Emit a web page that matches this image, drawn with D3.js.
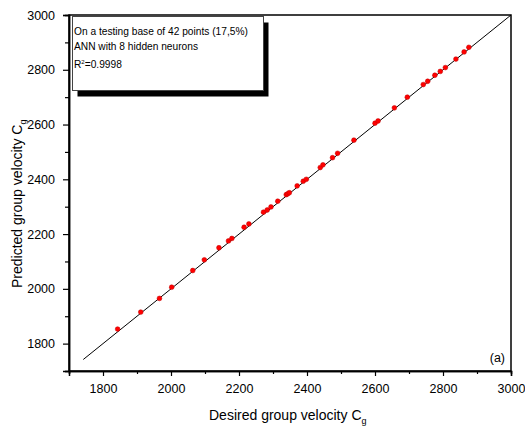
<!DOCTYPE html>
<html>
<head>
<meta charset="utf-8">
<script src="https://cdn.jsdelivr.net/npm/d3@7/dist/d3.min.js"></script>
<style>
  html, body { margin: 0; padding: 0; background: #fff; }
  svg { display: block; font-family: "Liberation Sans", Arial, sans-serif; }
</style>
</head>
<body>
<svg id="chart" width="525" height="431"></svg>
<script>
// Desired (x) vs predicted (y) group velocity for the testing points
const desired = [1843, 1911, 1966, 2002, 2064, 2098, 2141, 2169, 2179, 2215, 2229, 2272, 2283,
  2294, 2314, 2339, 2343, 2348, 2371, 2389, 2398, 2439, 2447, 2475, 2490, 2538, 2600, 2609,
  2657, 2695, 2742, 2755, 2776, 2792, 2807, 2838, 2862, 2876];
const predicted = [1853, 1915, 1965, 2006, 2067, 2106, 2150, 2175, 2184, 2225, 2237, 2280, 2288,
  2299, 2320, 2344, 2347, 2351, 2376, 2393, 2400, 2443, 2453, 2479, 2495, 2543, 2605, 2613,
  2661, 2700, 2746, 2758, 2780, 2794, 2808, 2839, 2865, 2882];

// Ideal fit line y = x
const fitLine = [1742, 3000];

const majorTicks = [1800, 2000, 2200, 2400, 2600, 2800, 3000];
const minorTicks = [1700, 1900, 2100, 2300, 2500, 2700, 2900];

const infoLines = ["On a testing base of 42 points (17,5%)", "ANN with 8 hidden neurons"];
const r2Value = "0.9998";

const svg = d3.select("#chart");
const plot = { left: 69, right: 511, top: 15, bottom: 371 };

const x = d3.scaleLinear().domain([1700, 3000]).range([plot.left, plot.right]);
const y = d3.scaleLinear().domain([1700, 3000]).range([plot.bottom, plot.top]);

// Frame
svg.append("rect")
  .attr("x", plot.left).attr("y", plot.top)
  .attr("width", plot.right - plot.left).attr("height", plot.bottom - plot.top)
  .attr("fill", "none").attr("stroke", "#000").attr("stroke-width", 1.5);

// Bottom axis
const xAxis = svg.append("g").attr("transform", `translate(0,${plot.bottom})`);
xAxis.call(d3.axisBottom(x).tickValues(majorTicks).tickSize(5).tickPadding(8).tickFormat(d3.format("d")));
xAxis.append("g").call(d3.axisBottom(x).tickValues(minorTicks).tickSize(3).tickFormat(""));
// Left axis
const yAxis = svg.append("g").attr("transform", `translate(${plot.left},0)`);
yAxis.call(d3.axisLeft(y).tickValues(majorTicks).tickSize(6).tickPadding(8).tickFormat(d3.format("d")));
yAxis.append("g").call(d3.axisLeft(y).tickValues(minorTicks).tickSize(4).tickFormat(""));

svg.selectAll(".domain").attr("stroke", "#000").attr("stroke-width", 1.5);
svg.selectAll(".tick line").attr("stroke", "#000").attr("stroke-width", 1.2);
svg.selectAll(".tick text")
  .attr("fill", "#000")
  .style("font-size", "12.5px")
  .style("font-family", "'Liberation Sans', Arial, sans-serif");

// Fit line
svg.append("line")
  .attr("x1", x(fitLine[0])).attr("y1", y(fitLine[0]))
  .attr("x2", x(fitLine[1])).attr("y2", y(fitLine[1]))
  .attr("stroke", "#000").attr("stroke-width", 1);

// Data points
svg.append("g").selectAll("circle")
  .data(desired.map((d, i) => [d, predicted[i]]))
  .join("circle")
  .attr("cx", d => x(d[0]))
  .attr("cy", d => y(d[1]))
  .attr("r", 2.4)
  .attr("fill", "#ff0000")
  .attr("stroke", "#c00000")
  .attr("stroke-width", 0.5);

// Info box with drop shadow
const box = { x: 72.5, y: 16.5, w: 191, h: 74 };
svg.append("rect")
  .attr("x", box.x + 5).attr("y", box.y + 6)
  .attr("width", box.w).attr("height", box.h)
  .attr("fill", "#000");
svg.append("rect")
  .attr("x", box.x).attr("y", box.y)
  .attr("width", box.w).attr("height", box.h)
  .attr("fill", "#fff").attr("stroke", "#444").attr("stroke-width", 1);

const info = svg.append("g")
  .style("font-size", "10.2px")
  .attr("fill", "#000");
infoLines.forEach((t, i) => {
  info.append("text").attr("x", 74).attr("y", 35 + i * 15).text(t);
});
const r2 = info.append("text").attr("x", 74).attr("y", 68);
r2.append("tspan").text("R");
r2.append("tspan").attr("dy", -4).style("font-size", "6px").text("2");
r2.append("tspan").attr("dy", 4).text("=" + r2Value);

// Panel label
svg.append("text")
  .attr("x", 505).attr("y", 362)
  .attr("text-anchor", "end")
  .style("font-size", "12.5px")
  .text("(a)");

// Axis titles
const xt = svg.append("text")
  .attr("x", 209).attr("y", 420)
  .style("font-size", "14px");
xt.append("tspan").text("Desired group velocity C");
xt.append("tspan").attr("dy", 4).style("font-size", "9px").text("g");

const yt = svg.append("text")
  .attr("transform", `translate(22,288) rotate(-90)`)
  .style("font-size", "14px");
yt.append("tspan").text("Predicted group velocity C");
yt.append("tspan").attr("dy", 4).style("font-size", "9px").text("g");
</script>
</body>
</html>
